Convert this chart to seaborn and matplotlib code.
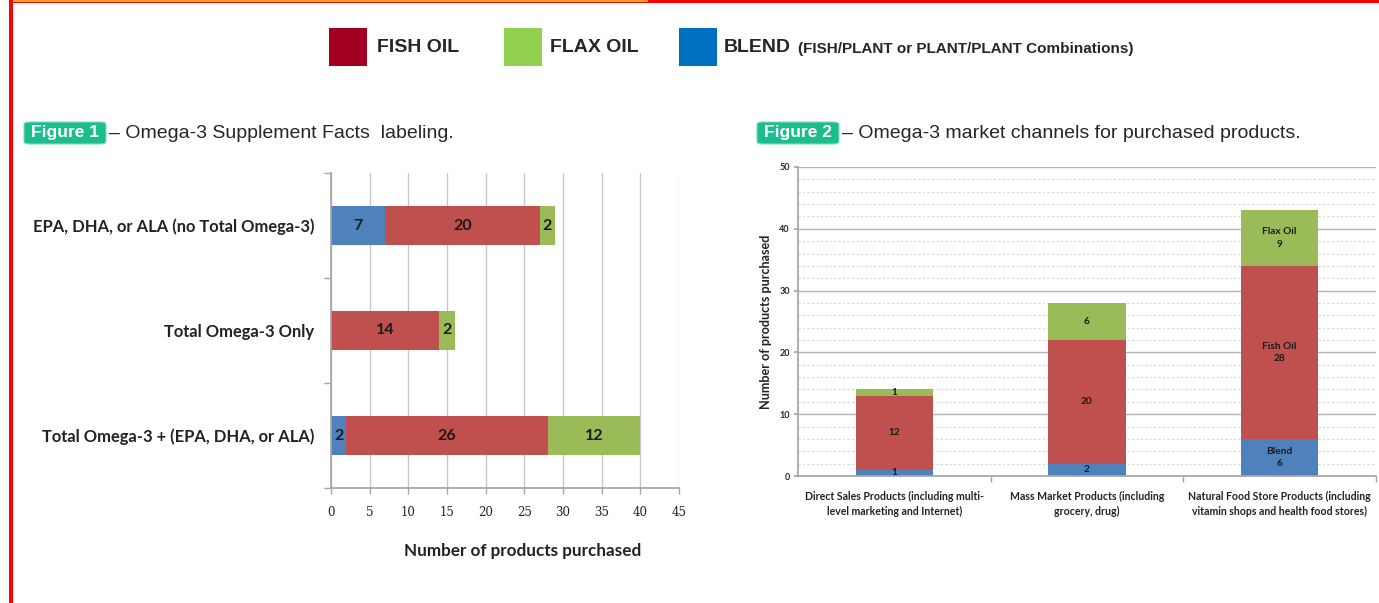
import numpy as np
import pandas as pd
import matplotlib.pyplot as plt
import seaborn as sns
from matplotlib.patches import Rectangle, FancyBboxPatch
from matplotlib.ticker import MultipleLocator, FixedLocator

sns.set_theme(style="white")
plt.rcParams['font.family'] = ['Liberation Sans', 'DejaVu Sans']

# Figure 1 - supplement facts labeling (horizontal stacked bars)
labeling = ["EPA, DHA, or ALA (no Total Omega-3)",
            "Total Omega-3 Only",
            "Total Omega-3 + (EPA, DHA, or ALA)"]
lab_blend = [7, 0, 2]
lab_fish = [20, 14, 26]
lab_flax = [2, 2, 12]
x_ticks1 = [0, 5, 10, 15, 20, 25, 30, 35, 40, 45]

# Figure 2 - market channels (vertical stacked bars)
channels = ["Direct Sales Products (including multi-\nlevel marketing and Internet)",
            "Mass Market Products (including\ngrocery, drug)",
            "Natural Food Store Products (including\nvitamin shops and health food stores)"]
ch_blend = [1, 2, 6]
ch_fish = [12, 20, 28]
ch_flax = [1, 6, 9]
ch_named = [False, False, True]
seg_names = ["Blend", "Fish Oil", "Flax Oil"]
y_ticks2 = [0, 10, 20, 30, 40, 50]

BLUE, RED, GREEN = "#4F81BD", "#C0504D", "#9BBB59"
BADGE = "#1CBC8C"
W, H = 1379, 603

fig = plt.figure(figsize=(W / 100, H / 100), dpi=100)
fig.patch.set_facecolor("white")

# -------------------------
# page frame
# -------------------------
fig.add_artist(Rectangle((10 / W, 1 - 3 / H), 1, 3 / H, transform=fig.transFigure,
                         color="#FF0000", lw=0))
fig.add_artist(Rectangle((10 / W, 1 - 1.5 / H), 638 / W, 1.5 / H, transform=fig.transFigure,
                         color="#F0A020", lw=0))
fig.add_artist(Rectangle((9 / W, 0), 4 / W, 1, transform=fig.transFigure,
                         color="#FF0000", lw=0))

# -------------------------
# top legend
# -------------------------
for x0, c in [(329, "#A30021"), (504, "#92D050"), (679, "#0070C0")]:
    fig.add_artist(Rectangle((x0 / W, 1 - 66 / H), 38 / W, 38 / H,
                             transform=fig.transFigure, color=c, lw=0))
fig.text(377 / W, 1 - 47 / H, "FISH OIL", fontsize=14, fontweight="bold", va="center")
fig.text(550 / W, 1 - 47 / H, "FLAX OIL", fontsize=14, fontweight="bold", va="center")
fig.text(724 / W, 1 - 47 / H, "BLEND", fontsize=14, fontweight="bold", va="center")
fig.text(798 / W, 1 - 49 / H, "(FISH/PLANT or PLANT/PLANT Combinations)",
         fontsize=11, fontweight="bold", va="center")

# -------------------------
# figure captions
# -------------------------
for bx, tx, num, cap in [(24, 109, "1", "Omega-3 Supplement Facts  labeling."),
                         (757, 842, "2", "Omega-3 market channels for purchased products.")]:
    fig.add_artist(FancyBboxPatch((bx / W, 1 - 144 / H), 82 / W, 22 / H,
                                  boxstyle="round,pad=0,rounding_size=0.004",
                                  transform=fig.transFigure, fc=BADGE, ec="#7FDCC0", lw=0.8))
    fig.text((bx + 41) / W, 1 - 133 / H, "Figure " + num, color="white", fontsize=12.5,
             fontweight="bold", ha="center", va="center")
    fig.text(tx / W, 1 - 133 / H, "\u2013 " + cap, fontsize=14, va="center")

# -------------------------
# Figure 1 chart
# -------------------------
df1 = pd.DataFrame({"label": labeling, "blend": lab_blend, "fish": lab_fish, "flax": lab_flax})
df1["c1"] = df1["blend"]
df1["c2"] = df1["blend"] + df1["fish"]
df1["c3"] = df1["c2"] + df1["flax"]

ax1 = fig.add_axes([331 / W, 1 - 488 / H, 348 / W, 315 / H])
for col, c in [("c3", GREEN), ("c2", RED), ("c1", BLUE)]:
    sns.barplot(data=df1, x=col, y="label", orient="h", color=c, saturation=1,
                width=0.38, linewidth=0, ax=ax1)

for i, row in df1.iterrows():
    start = 0
    for v in [row["blend"], row["fish"], row["flax"]]:
        if v > 0:
            ax1.text(start + v / 2, i, str(v), ha="center", va="center",
                     fontsize=11.5, fontweight="bold", family="Lato", color="#1a1a1a")
        start += v

ax1.set_xlim(0, 45)
ax1.set_ylim(2.5, -0.5)
ax1.set_xticks(x_ticks1)
ax1.set_xticklabels([str(t) for t in x_ticks1], family="DejaVu Serif", fontsize=8.5,
                    color="#222222")
ax1.tick_params(axis="x", length=4, width=1, color="#A6A6A6", pad=9, bottom=True)
ax1.tick_params(axis="y", which="major", length=0, pad=12)
ax1.set_yticklabels(labeling, family="Lato", fontweight="bold", fontsize=11.9, color="#222222")
ax1.yaxis.set_minor_locator(FixedLocator([-0.5, 0.5, 1.5, 2.5]))
ax1.tick_params(axis="y", which="minor", length=5, width=1, color="#A6A6A6", left=True)
ax1.xaxis.grid(True, color="#C8C8C8", lw=1)
ax1.set_axisbelow(True)
for s in ["top", "right"]:
    ax1.spines[s].set_visible(False)
for s in ["left", "bottom"]:
    ax1.spines[s].set_color("#A6A6A6")
ax1.set_ylabel("")
ax1.set_xlabel("Number of products purchased", family="Lato", fontweight="bold",
               fontsize=12.3, color="#222222")
ax1.xaxis.set_label_coords((523 - 331) / 348, -(551 - 488) / 315)
ax1.xaxis.label.set_va("center")

# -------------------------
# Figure 2 chart
# -------------------------
df2 = pd.DataFrame({"channel": channels, "blend": ch_blend, "fish": ch_fish, "flax": ch_flax})
df2["c1"] = df2["blend"]
df2["c2"] = df2["blend"] + df2["fish"]
df2["c3"] = df2["c2"] + df2["flax"]

ax2 = fig.add_axes([798 / W, 1 - 476 / H, 578 / W, 309 / H])
for col, c in [("c3", GREEN), ("c2", RED), ("c1", BLUE)]:
    sns.barplot(data=df2, x="channel", y=col, color=c, saturation=1,
                width=0.40, linewidth=0, ax=ax2)

for i, row in df2.iterrows():
    start = 0
    for name, v in zip(seg_names, [row["blend"], row["fish"], row["flax"]]):
        txt = f"{name}\n{v}" if ch_named[i] else str(v)
        ax2.text(i, start + v / 2, txt, ha="center", va="center", fontsize=7.3,
                 fontweight="bold", family="Lato", color="#1a1a1a", linespacing=1.5)
        start += v

ax2.set_xlim(-0.5, 2.5)
ax2.set_ylim(0, 50)
ax2.set_yticks(y_ticks2)
ax2.yaxis.set_minor_locator(MultipleLocator(2))
ax2.yaxis.grid(True, which="major", color="#B5B5B5", lw=1)
ax2.yaxis.grid(True, which="minor", color="#D5D5D5", lw=0.8, ls=(0, (2, 2)))
ax2.set_axisbelow(True)
ax2.tick_params(axis="y", which="major", labelsize=6.5, length=3, color="#A6A6A6", pad=3,
                left=True)
ax2.tick_params(axis="y", which="minor", length=0)
for t in ax2.get_yticklabels():
    t.set_family("Lato")
    t.set_fontweight("bold")
ax2.set_xticks(range(len(channels)))
ax2.set_xticklabels(channels, family="Lato", fontweight="bold", fontsize=7.6,
                    color="#222222", linespacing=1.35)
ax2.tick_params(axis="x", which="major", length=0, pad=11)
ax2.xaxis.set_minor_locator(FixedLocator([0.5, 1.5, 2.5]))
ax2.tick_params(axis="x", which="minor", length=4, color="#A6A6A6", bottom=True)
for s in ["top", "right"]:
    ax2.spines[s].set_visible(False)
for s in ["left", "bottom"]:
    ax2.spines[s].set_color("#A6A6A6")
ax2.set_xlabel("")
ax2.set_ylabel("Number of products purchased", family="Lato", fontweight="bold",
               fontsize=9.1, color="#222222", labelpad=5)

fig.savefig("out.png", dpi=100)
